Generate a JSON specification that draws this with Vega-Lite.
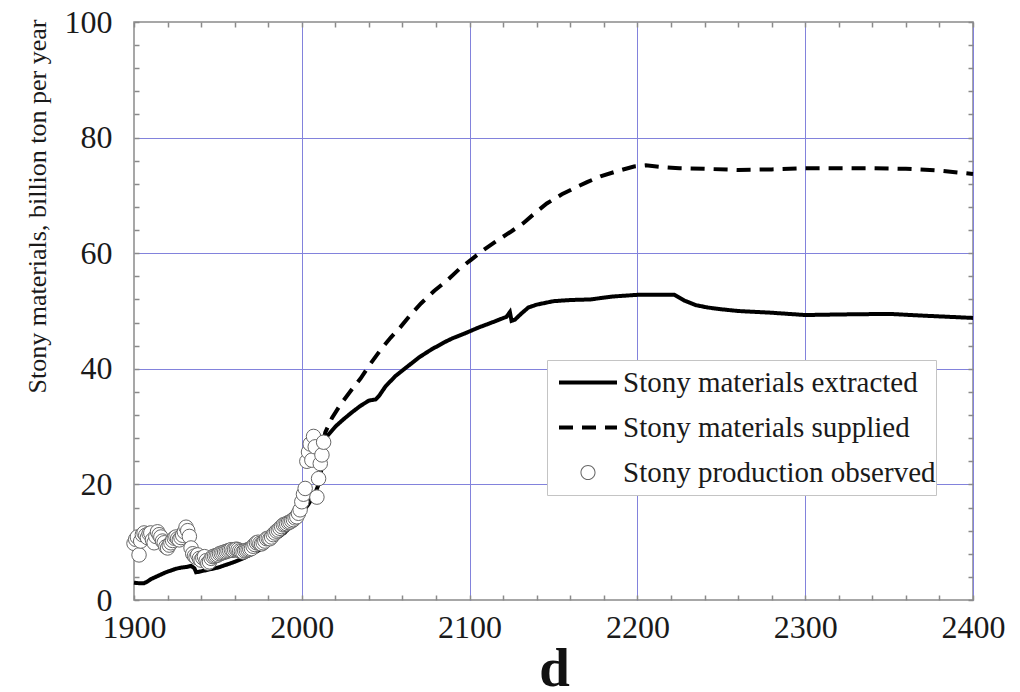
{
  "$schema": "https://vega.github.io/schema/vega-lite/v6.json",
  "width": 839,
  "height": 578,
  "autosize": "none",
  "padding": {"left": 134, "top": 22, "right": 47, "bottom": 92},
  "background": "white",
  "config": {"view": {"stroke": "#8a8a8a", "strokeWidth": 1.5}, "font": "Liberation Serif"},
  "datasets": {
    "model": [
      {"year": 1900, "value": 3.0, "series": "Stony materials extracted"},
      {"year": 1903, "value": 2.9, "series": "Stony materials extracted"},
      {"year": 1906, "value": 2.9, "series": "Stony materials extracted"},
      {"year": 1908, "value": 3.2, "series": "Stony materials extracted"},
      {"year": 1910, "value": 3.6, "series": "Stony materials extracted"},
      {"year": 1913, "value": 4.0, "series": "Stony materials extracted"},
      {"year": 1916, "value": 4.4, "series": "Stony materials extracted"},
      {"year": 1919, "value": 4.8, "series": "Stony materials extracted"},
      {"year": 1922, "value": 5.1, "series": "Stony materials extracted"},
      {"year": 1925, "value": 5.4, "series": "Stony materials extracted"},
      {"year": 1928, "value": 5.6, "series": "Stony materials extracted"},
      {"year": 1931, "value": 5.7, "series": "Stony materials extracted"},
      {"year": 1934, "value": 5.9, "series": "Stony materials extracted"},
      {"year": 1936, "value": 5.5, "series": "Stony materials extracted"},
      {"year": 1937, "value": 4.8, "series": "Stony materials extracted"},
      {"year": 1939, "value": 4.9, "series": "Stony materials extracted"},
      {"year": 1942, "value": 5.1, "series": "Stony materials extracted"},
      {"year": 1945, "value": 5.3, "series": "Stony materials extracted"},
      {"year": 1950, "value": 5.6, "series": "Stony materials extracted"},
      {"year": 1955, "value": 6.1, "series": "Stony materials extracted"},
      {"year": 1960, "value": 6.6, "series": "Stony materials extracted"},
      {"year": 1965, "value": 7.2, "series": "Stony materials extracted"},
      {"year": 1970, "value": 7.9, "series": "Stony materials extracted"},
      {"year": 1975, "value": 8.7, "series": "Stony materials extracted"},
      {"year": 1980, "value": 9.6, "series": "Stony materials extracted"},
      {"year": 1985, "value": 10.6, "series": "Stony materials extracted"},
      {"year": 1990, "value": 11.7, "series": "Stony materials extracted"},
      {"year": 1995, "value": 13.2, "series": "Stony materials extracted"},
      {"year": 2000, "value": 15.0, "series": "Stony materials extracted"},
      {"year": 2004, "value": 16.6, "series": "Stony materials extracted"},
      {"year": 2008, "value": 18.5, "series": "Stony materials extracted"},
      {"year": 2010, "value": 20.0, "series": "Stony materials extracted"},
      {"year": 2011, "value": 20.8, "series": "Stony materials extracted"},
      {"year": 2012, "value": 24.0, "series": "Stony materials extracted"},
      {"year": 2013, "value": 27.0, "series": "Stony materials extracted"},
      {"year": 2015, "value": 28.3, "series": "Stony materials extracted"},
      {"year": 2020, "value": 30.0, "series": "Stony materials extracted"},
      {"year": 2025, "value": 31.3, "series": "Stony materials extracted"},
      {"year": 2030, "value": 32.5, "series": "Stony materials extracted"},
      {"year": 2035, "value": 33.6, "series": "Stony materials extracted"},
      {"year": 2040, "value": 34.5, "series": "Stony materials extracted"},
      {"year": 2044, "value": 34.7, "series": "Stony materials extracted"},
      {"year": 2046, "value": 35.3, "series": "Stony materials extracted"},
      {"year": 2050, "value": 37.0, "series": "Stony materials extracted"},
      {"year": 2056, "value": 38.8, "series": "Stony materials extracted"},
      {"year": 2063, "value": 40.4, "series": "Stony materials extracted"},
      {"year": 2070, "value": 42.0, "series": "Stony materials extracted"},
      {"year": 2077, "value": 43.3, "series": "Stony materials extracted"},
      {"year": 2085, "value": 44.6, "series": "Stony materials extracted"},
      {"year": 2090, "value": 45.3, "series": "Stony materials extracted"},
      {"year": 2097, "value": 46.1, "series": "Stony materials extracted"},
      {"year": 2105, "value": 47.1, "series": "Stony materials extracted"},
      {"year": 2115, "value": 48.2, "series": "Stony materials extracted"},
      {"year": 2122, "value": 49.0, "series": "Stony materials extracted"},
      {"year": 2124, "value": 49.8, "series": "Stony materials extracted"},
      {"year": 2125, "value": 48.3, "series": "Stony materials extracted"},
      {"year": 2127, "value": 48.5, "series": "Stony materials extracted"},
      {"year": 2131, "value": 49.6, "series": "Stony materials extracted"},
      {"year": 2135, "value": 50.6, "series": "Stony materials extracted"},
      {"year": 2140, "value": 51.1, "series": "Stony materials extracted"},
      {"year": 2150, "value": 51.7, "series": "Stony materials extracted"},
      {"year": 2160, "value": 51.9, "series": "Stony materials extracted"},
      {"year": 2172, "value": 52.0, "series": "Stony materials extracted"},
      {"year": 2185, "value": 52.5, "series": "Stony materials extracted"},
      {"year": 2200, "value": 52.8, "series": "Stony materials extracted"},
      {"year": 2222, "value": 52.8, "series": "Stony materials extracted"},
      {"year": 2228, "value": 51.8, "series": "Stony materials extracted"},
      {"year": 2235, "value": 51.0, "series": "Stony materials extracted"},
      {"year": 2242, "value": 50.6, "series": "Stony materials extracted"},
      {"year": 2250, "value": 50.3, "series": "Stony materials extracted"},
      {"year": 2260, "value": 50.0, "series": "Stony materials extracted"},
      {"year": 2280, "value": 49.7, "series": "Stony materials extracted"},
      {"year": 2300, "value": 49.3, "series": "Stony materials extracted"},
      {"year": 2320, "value": 49.4, "series": "Stony materials extracted"},
      {"year": 2350, "value": 49.5, "series": "Stony materials extracted"},
      {"year": 2370, "value": 49.2, "series": "Stony materials extracted"},
      {"year": 2400, "value": 48.8, "series": "Stony materials extracted"},
      {"year": 2013, "value": 27.5, "series": "Stony materials supplied"},
      {"year": 2014, "value": 29.0, "series": "Stony materials supplied"},
      {"year": 2018, "value": 31.5, "series": "Stony materials supplied"},
      {"year": 2023, "value": 33.8, "series": "Stony materials supplied"},
      {"year": 2030, "value": 36.5, "series": "Stony materials supplied"},
      {"year": 2035, "value": 38.3, "series": "Stony materials supplied"},
      {"year": 2040, "value": 40.5, "series": "Stony materials supplied"},
      {"year": 2047, "value": 43.3, "series": "Stony materials supplied"},
      {"year": 2053, "value": 45.4, "series": "Stony materials supplied"},
      {"year": 2059, "value": 47.3, "series": "Stony materials supplied"},
      {"year": 2065, "value": 49.4, "series": "Stony materials supplied"},
      {"year": 2071, "value": 51.3, "series": "Stony materials supplied"},
      {"year": 2079, "value": 53.5, "series": "Stony materials supplied"},
      {"year": 2087, "value": 55.4, "series": "Stony materials supplied"},
      {"year": 2094, "value": 57.3, "series": "Stony materials supplied"},
      {"year": 2101, "value": 58.9, "series": "Stony materials supplied"},
      {"year": 2108, "value": 60.5, "series": "Stony materials supplied"},
      {"year": 2117, "value": 62.3, "series": "Stony materials supplied"},
      {"year": 2125, "value": 63.8, "series": "Stony materials supplied"},
      {"year": 2132, "value": 65.2, "series": "Stony materials supplied"},
      {"year": 2140, "value": 67.2, "series": "Stony materials supplied"},
      {"year": 2146, "value": 68.6, "series": "Stony materials supplied"},
      {"year": 2155, "value": 70.2, "series": "Stony materials supplied"},
      {"year": 2162, "value": 71.2, "series": "Stony materials supplied"},
      {"year": 2170, "value": 72.3, "series": "Stony materials supplied"},
      {"year": 2178, "value": 73.3, "series": "Stony materials supplied"},
      {"year": 2188, "value": 74.2, "series": "Stony materials supplied"},
      {"year": 2198, "value": 75.0, "series": "Stony materials supplied"},
      {"year": 2205, "value": 75.2, "series": "Stony materials supplied"},
      {"year": 2215, "value": 74.9, "series": "Stony materials supplied"},
      {"year": 2225, "value": 74.7, "series": "Stony materials supplied"},
      {"year": 2240, "value": 74.6, "series": "Stony materials supplied"},
      {"year": 2260, "value": 74.4, "series": "Stony materials supplied"},
      {"year": 2280, "value": 74.5, "series": "Stony materials supplied"},
      {"year": 2300, "value": 74.7, "series": "Stony materials supplied"},
      {"year": 2340, "value": 74.7, "series": "Stony materials supplied"},
      {"year": 2360, "value": 74.6, "series": "Stony materials supplied"},
      {"year": 2380, "value": 74.3, "series": "Stony materials supplied"},
      {"year": 2400, "value": 73.7, "series": "Stony materials supplied"}
    ],
    "observed": [
      {"year": 1900, "value": 9.8}, {"year": 1901, "value": 10.5}, {"year": 1902, "value": 10.9},
      {"year": 1903, "value": 7.8}, {"year": 1904, "value": 10.2}, {"year": 1905, "value": 11.3},
      {"year": 1906, "value": 11.6}, {"year": 1907, "value": 11.2}, {"year": 1908, "value": 10.8},
      {"year": 1909, "value": 11.5}, {"year": 1910, "value": 11.6}, {"year": 1911, "value": 10.4},
      {"year": 1912, "value": 9.9}, {"year": 1913, "value": 11.0}, {"year": 1914, "value": 11.8},
      {"year": 1915, "value": 11.3}, {"year": 1916, "value": 10.9}, {"year": 1917, "value": 10.2},
      {"year": 1918, "value": 9.9}, {"year": 1919, "value": 9.2}, {"year": 1920, "value": 9.0},
      {"year": 1921, "value": 9.5}, {"year": 1922, "value": 9.9}, {"year": 1923, "value": 10.3},
      {"year": 1924, "value": 10.7}, {"year": 1925, "value": 10.9}, {"year": 1926, "value": 10.6},
      {"year": 1927, "value": 10.4}, {"year": 1928, "value": 10.8}, {"year": 1929, "value": 11.2},
      {"year": 1930, "value": 11.8}, {"year": 1931, "value": 12.6}, {"year": 1932, "value": 12.0},
      {"year": 1933, "value": 11.0}, {"year": 1934, "value": 9.0}, {"year": 1935, "value": 8.0},
      {"year": 1936, "value": 7.6}, {"year": 1937, "value": 7.4}, {"year": 1938, "value": 7.8},
      {"year": 1939, "value": 7.2}, {"year": 1940, "value": 6.9}, {"year": 1941, "value": 7.3},
      {"year": 1942, "value": 7.5}, {"year": 1943, "value": 6.8}, {"year": 1944, "value": 6.4},
      {"year": 1945, "value": 6.6}, {"year": 1946, "value": 7.2}, {"year": 1947, "value": 7.5},
      {"year": 1948, "value": 7.6}, {"year": 1949, "value": 7.7}, {"year": 1950, "value": 7.8},
      {"year": 1951, "value": 8.0}, {"year": 1952, "value": 8.1}, {"year": 1953, "value": 8.2},
      {"year": 1954, "value": 8.3}, {"year": 1955, "value": 8.4}, {"year": 1956, "value": 8.5},
      {"year": 1957, "value": 8.6}, {"year": 1958, "value": 8.7}, {"year": 1959, "value": 8.6},
      {"year": 1960, "value": 8.7}, {"year": 1961, "value": 8.8}, {"year": 1962, "value": 8.7},
      {"year": 1963, "value": 8.5}, {"year": 1964, "value": 8.4}, {"year": 1965, "value": 8.3},
      {"year": 1966, "value": 8.5}, {"year": 1967, "value": 8.6}, {"year": 1968, "value": 8.7},
      {"year": 1969, "value": 8.8}, {"year": 1970, "value": 8.9}, {"year": 1971, "value": 9.3},
      {"year": 1972, "value": 9.6}, {"year": 1973, "value": 9.9}, {"year": 1974, "value": 10.0},
      {"year": 1975, "value": 9.8}, {"year": 1976, "value": 9.7}, {"year": 1977, "value": 9.9},
      {"year": 1978, "value": 10.2}, {"year": 1979, "value": 10.6}, {"year": 1980, "value": 10.7},
      {"year": 1981, "value": 10.6}, {"year": 1982, "value": 10.9}, {"year": 1983, "value": 11.3},
      {"year": 1984, "value": 11.6}, {"year": 1985, "value": 11.9}, {"year": 1986, "value": 12.1},
      {"year": 1987, "value": 12.4}, {"year": 1988, "value": 12.7}, {"year": 1989, "value": 13.0},
      {"year": 1990, "value": 13.1}, {"year": 1991, "value": 13.2}, {"year": 1992, "value": 13.4},
      {"year": 1993, "value": 13.5}, {"year": 1994, "value": 13.7}, {"year": 1995, "value": 13.9},
      {"year": 1996, "value": 14.2}, {"year": 1997, "value": 14.4}, {"year": 1998, "value": 15.0},
      {"year": 1999, "value": 15.6}, {"year": 2000, "value": 17.0}, {"year": 2001, "value": 18.3},
      {"year": 2002, "value": 19.3}, {"year": 2003, "value": 24.0}, {"year": 2004, "value": 25.6},
      {"year": 2005, "value": 27.0}, {"year": 2006, "value": 24.2}, {"year": 2007, "value": 28.3},
      {"year": 2008, "value": 26.5}, {"year": 2009, "value": 17.8}, {"year": 2010, "value": 21.0},
      {"year": 2011, "value": 23.6}, {"year": 2012, "value": 25.1}, {"year": 2013, "value": 27.3}
    ]
  },
  "layer": [
    {
      "data": {"name": "model"},
      "mark": {"type": "line", "color": "black", "strokeWidth": 4, "strokeCap": "butt"},
      "encoding": {
        "x": {
          "field": "year", "type": "quantitative",
          "scale": {"domain": [1900, 2400], "nice": false, "zero": false},
          "axis": {
            "orient": "bottom",
            "values": [1900,1920,1940,1960,1980,2000,2020,2040,2060,2080,2100,2120,2140,2160,2180,2200,2220,2240,2260,2280,2300,2320,2340,2360,2380,2400],
            "format": "d",
            "labelExpr": "datum.value % 100 === 0 ? datum.label : ''",
            "labelFont": "Liberation Serif", "labelFontSize": 32, "labelColor": "#1a1a1a",
            "labelPadding": 17, "labelFlush": false, "labelOverlap": false,
            "tickSize": -5, "tickColor": "#8a8a8a", "tickWidth": 1.5,
            "domain": false,
            "grid": true, "gridColor": "#8282dc", "gridWidth": 1,
            "gridOpacity": {"condition": {"test": "datum.value % 100 === 0 && datum.value > 1900", "value": 1}, "value": 0},
            "title": "d",
            "titleFont": "Liberation Serif", "titleFontSize": 55, "titleFontWeight": "bold", "titleColor": "#111111",
            "titleX": 420, "titleY": 85, "titleBaseline": "alphabetic", "titleAlign": "center"
          }
        },
        "y": {
          "field": "value", "type": "quantitative",
          "scale": {"domain": [0, 100], "nice": false},
          "axis": {
            "orient": "left",
            "values": [0,4,8,12,16,20,24,28,32,36,40,44,48,52,56,60,64,68,72,76,80,84,88,92,96,100],
            "labelExpr": "datum.value % 20 === 0 ? datum.label : ''",
            "labelFont": "Liberation Serif", "labelFontSize": 32, "labelColor": "#1a1a1a",
            "labelPadding": 27, "labelOverlap": false, "labelFlush": false,
            "tickSize": -5, "tickColor": "#8a8a8a", "tickWidth": 1.5,
            "domain": false,
            "grid": true, "gridColor": "#8282dc", "gridWidth": 1,
            "gridOpacity": {"condition": {"test": "datum.value % 20 === 0 && datum.value > 0 && datum.value < 100", "value": 1}, "value": 0},
            "title": "Stony materials, billion ton per year",
            "titleFont": "Liberation Serif", "titleFontSize": 26, "titleFontWeight": "normal", "titleColor": "#1a1a1a",
            "titleAngle": 270, "titleAlign": "right", "titleBaseline": "alphabetic",
            "titleX": -89, "titleY": -3
          }
        },
        "strokeDash": {
          "field": "series", "type": "nominal",
          "scale": {
            "domain": ["Stony materials extracted", "Stony materials supplied", "Stony production observed"],
            "range": [[1, 0], [14, 9], [1, 0]]
          },
          "legend": {
            "orient": "none", "legendX": 413, "legendY": 338,
            "title": null, "direction": "vertical",
            "padding": 0, "fillColor": "white", "strokeColor": "#c4c4c4", "cornerRadius": 0,
            "symbolType": "stroke", "symbolSize": 3364, "symbolStrokeWidth": 4, "symbolStrokeColor": "black",
            "symbolOffset": 10, "clipHeight": 45, "rowPadding": 0,
            "labelFont": "Liberation Serif", "labelFontSize": 29, "labelColor": "#1a1a1a",
            "labelOffset": 4, "labelLimit": 400,
            "encode": {
              "symbols": {
                "update": {
                  "shape": {"signal": "datum.value === 'Stony production observed' ? 'M-0.26,0A0.26,0.26,0,1,1,0.26,0A0.26,0.26,0,1,1,-0.26,0ZM-0.225,0A0.225,0.225,0,1,0,0.225,0A0.225,0.225,0,1,0,-0.225,0Z' : 'stroke'"},
                  "fill": {"signal": "datum.value === 'Stony production observed' ? '#666666' : 'transparent'"},
                  "stroke": {"signal": "datum.value === 'Stony production observed' ? 'transparent' : 'black'"},
                  "strokeDash": {"signal": "datum.value === 'Stony materials supplied' ? [0, 13, 22, 6, 17, 100] : [1, 0]"}
                }
              }
            }
          }
        }
      }
    },
    {
      "data": {"name": "observed"},
      "mark": {"type": "point", "shape": "circle", "filled": true, "fill": "white", "stroke": "#666666", "strokeWidth": 1, "size": 210, "opacity": 1},
      "encoding": {
        "x": {
          "field": "year", "type": "quantitative",
          "scale": {"domain": [1900, 2400], "nice": false, "zero": false},
          "axis": {
            "orient": "top",
            "values": [1900,1920,1940,1960,1980,2000,2020,2040,2060,2080,2100,2120,2140,2160,2180,2200,2220,2240,2260,2280,2300,2320,2340,2360,2380,2400],
            "labels": false, "grid": false, "domain": false, "title": null,
            "tickSize": -5, "tickColor": "#8a8a8a", "tickWidth": 1.5
          }
        },
        "y": {
          "field": "value", "type": "quantitative",
          "scale": {"domain": [0, 100], "nice": false},
          "axis": {
            "orient": "right",
            "values": [0,4,8,12,16,20,24,28,32,36,40,44,48,52,56,60,64,68,72,76,80,84,88,92,96,100],
            "labels": false, "grid": false, "domain": false, "title": null,
            "tickSize": -5, "tickColor": "#8a8a8a", "tickWidth": 1.5
          }
        }
      }
    }
  ],
  "resolve": {"axis": {"x": "independent", "y": "independent"}}
}
